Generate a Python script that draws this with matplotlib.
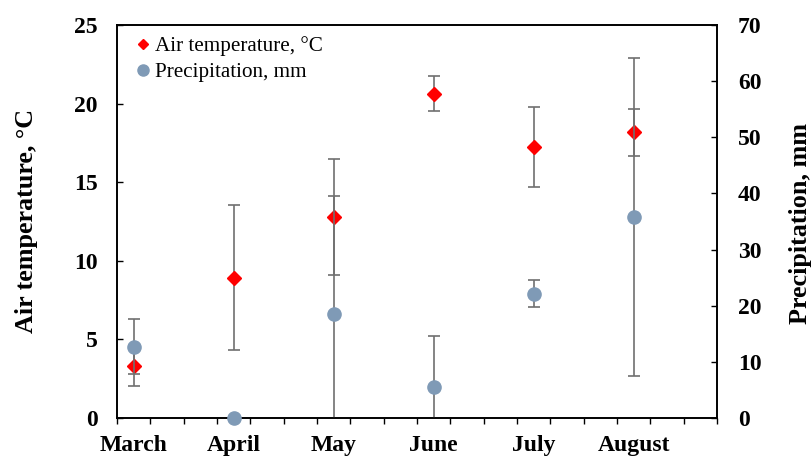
import matplotlib.pyplot as plt
from matplotlib.lines import Line2D

plt.rcParams['font.family'] = ['Liberation Serif', 'DejaVu Serif']

# data
months = ['March', 'April', 'May', 'June', 'July', 'August']
temp = [3.33, 8.93, 12.81, 20.63, 17.26, 18.17]
temp_err_low = [1.3, 4.6, 3.7, 1.13, 2.55, 1.5]
temp_err_high = [1.3, 4.6, 1.3, 1.13, 2.55, 1.5]
precip = [12.7, 0.0, 18.6, 5.5, 22.1, 35.75]
precip_err = [4.9, 0.0, 27.6, 9.1, 2.4, 28.3]

red = '#ff0000'
blue = '#7f9ab6'
err_col = '#707070'

# Excel-like category axis: 3 slots per month, point in the middle of each
x = [3 * i + 0.5 for i in range(len(months))]

fig = plt.figure(figsize=(8.11, 4.58), dpi=100)
ax1 = fig.add_axes([117 / 811, 40 / 458, 600 / 811, 393 / 458])
ax2 = ax1.twinx()

# temperature on the left axis
ax1.errorbar(x, temp, yerr=[temp_err_low, temp_err_high], fmt='none',
             ecolor=err_col, elinewidth=1.2, capsize=4.5, capthick=1.2)
ax1.plot(x, temp, linestyle='none', marker='D', ms=6.8, color=red,
         clip_on=False, zorder=3)

# precipitation on the right axis
ax2.errorbar(x, precip, yerr=precip_err, fmt='none',
             ecolor=err_col, elinewidth=1.2, capsize=4.5, capthick=1.2)
ax2.plot(x, precip, linestyle='none', marker='o', ms=9.5, color=blue,
         clip_on=False, zorder=3)

ax1.set_xlim(0, 18)
ax1.set_ylim(0, 25)
ax2.set_ylim(0, 70)
ax1.set_yticks(range(0, 26, 5))
ax2.set_yticks(range(0, 71, 10))

ax1.set_xticks(x)
ax1.set_xticklabels(months)
ax1.set_xticks(range(0, 19), minor=True)
ax1.tick_params(axis='x', which='major', length=0, pad=12.5,
                labelsize=17)
ax1.tick_params(axis='x', which='minor', direction='out', length=4, width=1)
ax1.tick_params(axis='y', direction='in', length=4.5, width=1, pad=14,
                labelsize=17)
ax2.tick_params(axis='y', direction='in', length=4.5, width=1, pad=15,
                labelsize=17)
for lab in ax1.get_xticklabels() + ax1.get_yticklabels() + ax2.get_yticklabels():
    lab.set_fontweight('bold')

for a in (ax1, ax2):
    for s in a.spines.values():
        s.set_linewidth(1.2)

fig.text(27 / 811, 1 - 221 / 458, 'Air temperature, °C', rotation=90,
         ha='center', va='center', fontsize=18.8, fontweight='bold')
fig.text(800 / 811, 1 - 223 / 458, 'Precipitation, mm', rotation=90,
         ha='center', va='center', fontsize=18.8, fontweight='bold')

handles = [
    Line2D([], [], linestyle='none', marker='D', ms=5.5, color=red),
    Line2D([], [], linestyle='none', marker='o', ms=8, color=blue),
]
ax2.legend(handles, ['Air temperature, °C', 'Precipitation, mm'],
           loc='upper left', bbox_to_anchor=(0.033, 0.972), frameon=False,
           fontsize=15.2, handlelength=0.6, handletextpad=0.25,
           labelspacing=0.3, borderaxespad=0, borderpad=0)

fig.savefig('out.png', dpi=100)
